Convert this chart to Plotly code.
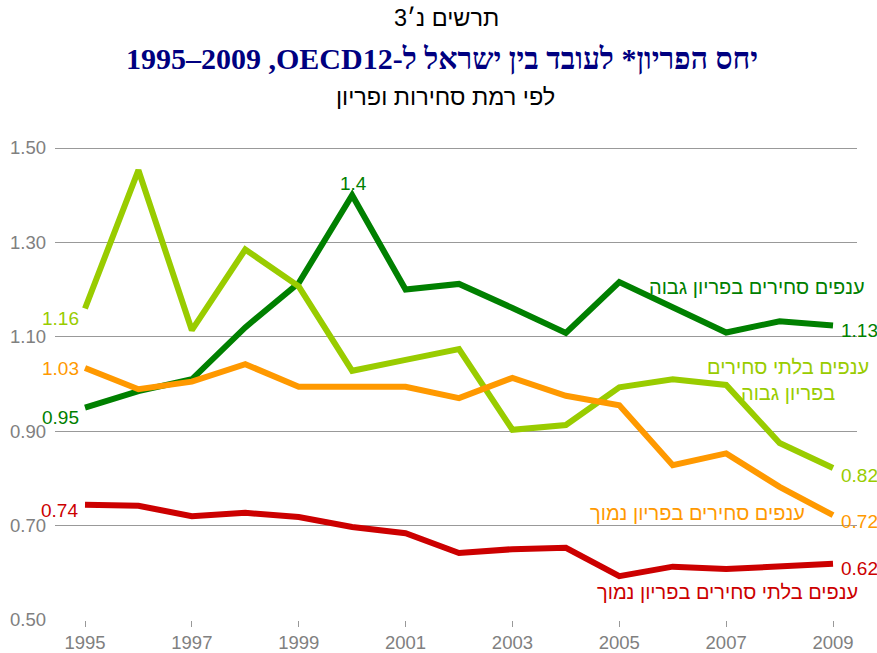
import plotly.graph_objects as go

years = list(range(1995, 2010))
high_tradable = [0.95, 0.985, 1.01, 1.12, 1.214, 1.40, 1.20, 1.212, 1.161, 1.108, 1.216, 1.164, 1.109, 1.133, 1.124]
high_nontradable = [1.16, 1.453, 1.114, 1.285, 1.207, 1.028, 1.051, 1.074, 0.903, 0.913, 0.993, 1.01, 0.998, 0.875, 0.822]
low_tradable = [1.034, 0.989, 1.005, 1.042, 0.994, 0.994, 0.994, 0.970, 1.013, 0.975, 0.955, 0.828, 0.853, 0.782, 0.722]
low_nontradable = [0.744, 0.742, 0.72, 0.727, 0.718, 0.697, 0.684, 0.642, 0.65, 0.653, 0.593, 0.613, 0.608, 0.613, 0.619]

series_names = ["ענפים סחירים בפריון גבוה", "ענפים בלתי סחירים<br>בפריון גבוה",
                "ענפים סחירים בפריון נמוך", "ענפים בלתי סחירים בפריון נמוך"]
start_labels = ["0.95", "1.16", "1.03", "0.74"]
end_labels = ["1.13", "0.82", "0.72", "0.62"]
peak_label = "1.4"
y_ticks = [0.5, 0.7, 0.9, 1.1, 1.3, 1.5]
x_ticks = [1995, 1997, 1999, 2001, 2003, 2005, 2007, 2009]

title1 = "תרשים נ׳3"
title2_he = "יחס הפריון* לעובד בין ישראל ל-OECD12, "
title2_years = "1995–2009"
subtitle = "לפי רמת סחירות ופריון"

RLI, LRI, PDI = "\u2067", "\u2066", "\u2069"

colors = ["#008000", "#99CC00", "#FF9900", "#CC0000"]
data = [high_tradable, high_nontradable, low_tradable, low_nontradable]

W, H = 877, 653
L, R, T, B = 55, 20, 100, 33
PW, PH = W - L - R, H - T - B

def px(x):
    return (x - L) / PW

def py(y):
    return (H - B - y) / PH

FONT = "Liberation Sans, Arial, sans-serif"

fig = go.Figure()
for vals, c in zip(data, colors):
    fig.add_trace(go.Scatter(x=years, y=vals, mode="lines",
                             line=dict(color=c, width=6), showlegend=False,
                             hoverinfo="skip"))

ann = []
def add(text, x, y, color, size=19, xa="center", ya="middle", family=FONT, align="center"):
    ann.append(dict(text=text, x=px(x), y=py(y), xref="paper", yref="paper",
                    showarrow=False, xanchor=xa, yanchor=ya, align=align,
                    font=dict(family=family, size=size, color=color)))

# titles
add(RLI + title1 + PDI, 446, 18, "#000000", size=23.5)
add("<b>" + RLI + title2_he + LRI + title2_years + PDI + PDI + "</b>", 442, 58, "#000080", size=30,
    family="Liberation Serif, Times New Roman, serif")
add(subtitle, 445, 97, "#000000", size=23.5)

# start labels
add(start_labels[0], 81, 417, colors[0], xa="right")
add(start_labels[1], 81, 318, colors[1], xa="right")
add(start_labels[2], 81, 368, colors[2], xa="right")
add(start_labels[3], 80, 510, colors[3], xa="right")
# end labels
add(end_labels[0], 839, 330, colors[0], xa="left")
add(end_labels[1], 839, 475, colors[1], xa="left")
add(end_labels[2], 839, 521, colors[2], xa="left")
add(end_labels[3], 839, 568, colors[3], xa="left")
# peak
add(peak_label, 353, 183, colors[0])
# series names
add(series_names[0], 867, 287, colors[0], size=20, xa="right")
add(series_names[1], 788, 380, colors[1], size=20)
add(series_names[2], 807, 513, colors[2], size=20, xa="right")
add(series_names[3], 860, 592, colors[3], size=20, xa="right")

ppy = 53.43
x0 = 1995 - (85 - L) / ppy
x1 = x0 + PW / ppy
y0 = 0.5
y1 = 0.5 + PH / 472.0

fig.update_layout(
    width=W, height=H, margin=dict(l=L, r=R, t=T, b=B, autoexpand=False),
    paper_bgcolor="white", plot_bgcolor="white",
    annotations=ann,
    xaxis=dict(range=[x0, x1], tickvals=x_ticks, ticktext=[str(v) for v in x_ticks],
               showgrid=False, zeroline=False, showline=False, automargin=False,
               ticks="outside", ticklen=6, tickcolor="#999999",
               tickfont=dict(family=FONT, size=18.5, color="#808080")),
    yaxis=dict(range=[y0, y1], tickvals=y_ticks, ticktext=[f"{v:.2f}" for v in y_ticks],
               showgrid=True, gridcolor="#999999", gridwidth=1, zeroline=False,
               showline=False, ticks="", ticklabelstandoff=8, automargin=False,
               tickfont=dict(family=FONT, size=18.5, color="#808080")),
)

fig.write_html("out.html", config={"displayModeBar": False},
               post_script="document.body.style.margin='0';document.body.style.overflow='hidden';")
